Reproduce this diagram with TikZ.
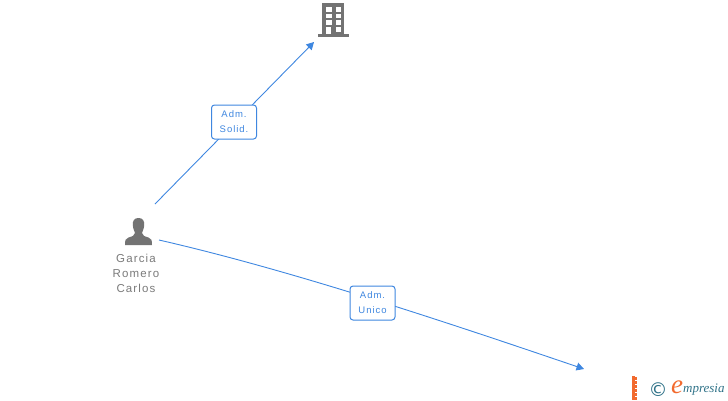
\documentclass[tikz,border=0pt]{standalone}
\usepackage{fontspec}
\setmainfont{Liberation Sans}
\newfontfamily\lblfont[LetterSpace=10]{Liberation Sans}
\newfontfamily\logofont{Liberation Serif}
\newfontfamily\symfont{DejaVu Sans}
\usetikzlibrary{arrows.meta}
\definecolor{linkblue}{HTML}{3F87E0}
\definecolor{icongray}{HTML}{737373}
\definecolor{textgray}{HTML}{7A7A7A}
\definecolor{logoorange}{HTML}{F26A2E}
\definecolor{logoteal}{HTML}{2F7288}
\tikzset{
  px/.style={x=1pt,y=-1pt},
  link/.style={draw=linkblue,line width=0.9pt,-{Triangle[length=7.5pt,width=8pt]}},
  rolebox/.style={draw=linkblue,line width=1pt,rounded corners=3pt,fill=white,inner sep=0pt,
    minimum width=45pt,minimum height=34pt,align=center,text=linkblue,
    font=\lblfont\fontsize{9.5}{15}\selectfont},
  personlabel/.style={align=center,text=textgray,inner sep=0pt,font=\lblfont\fontsize{11.5}{15}\selectfont},
}
\begin{document}
\begin{tikzpicture}[px]
\useasboundingbox (0,0) rectangle (728,400);
% anchors
\coordinate (p1) at (155,204);
\coordinate (b1) at (314,42);
\coordinate (p2) at (159,240);
\coordinate (t2) at (584,369);
% connectors
\draw[link] (p1) -- (b1);
\draw[link] (p2) .. controls (290,270) and (440,320) .. (t2);
% labels
\node[rolebox] (solid) at (234,122) {Adm.\\Solid.};
\node[rolebox] (unico) at (372.5,303) {Adm.\\Unico};
% building
\fill[icongray] (322,3) rectangle (344,34);
\fill[icongray] (317.5,34) rectangle (349,36.5);
\foreach \yy in {7,13.5,20}{
  \fill[white] (326,\yy) rectangle (331.5,\yy+4.5);
  \fill[white] (335.5,\yy) rectangle (340.5,\yy+4.5);
}
\fill[white] (326,26.5) rectangle (330.5,34);
\fill[white] (335.5,26.5) rectangle (340.5,31.5);
% person
\fill[icongray] (138.5,218) .. controls (134,218) and (132.6,221) .. (132.8,225)
  .. controls (133,229) and (134.5,231) .. (135,233)
  .. controls (135,235.5) and (132,236.5) .. (128.5,237.5)
  .. controls (125.5,238.5) and (125,240) .. (125,245)
  -- (152,245)
  .. controls (152,240) and (151.5,238.5) .. (148.5,237.5)
  .. controls (145,236.5) and (142,235.5) .. (142,233)
  .. controls (142.5,231) and (144,229) .. (144.2,225)
  .. controls (144.4,221) and (143,218) .. (138.5,218) -- cycle;
\node[personlabel] (name) at (136,273.5) {Garcia\\Romero\\Carlos};
% logo
\fill[logoorange] (632,376) rectangle (635,400);
\foreach \yy in {377,381,385,389,393,397}{\fill[logoorange] (635,\yy) rectangle (637,\yy+2.5);}
\node[text=logoteal,inner sep=0pt,font=\symfont\fontsize{19}{19}\selectfont] (copyr) at (658,389.5) {©};
\node[text=logoorange,inner sep=0pt,font=\logofont\itshape\fontsize{27}{27}\selectfont] (logoe) at (677,387) {e};
\node[text=logoteal,inner sep=0pt,anchor=west,font=\logofont\itshape\fontsize{13}{15}\selectfont] (logot) at (683,390) {mpresia};
\end{tikzpicture}
\end{document}
